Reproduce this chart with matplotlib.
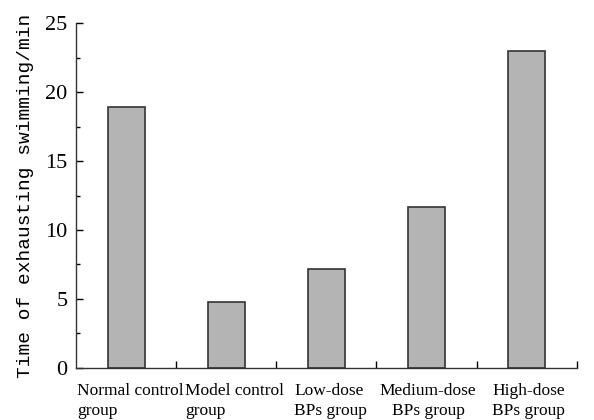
import numpy as np
import matplotlib.pyplot as plt
from matplotlib.ticker import MultipleLocator

groups = ["Normal control\ngroup", "Model control\ngroup", "Low-dose\nBPs group",
          "Medium-dose\nBPs group", "High-dose\nBPs group"]
times = [18.9, 4.8, 7.2, 11.7, 23.0]
label_align = ["left", "left", "left", "center", "left"]
label_shift = [3, 6, 3, 1, 1.5]  # small horizontal nudges, points

fig = plt.figure(figsize=(5.94, 4.2), dpi=100)
ax = fig.add_axes([0.128, 0.124, 0.843, 0.821])

x = np.arange(len(groups)) + 0.5
ax.bar(x, times, width=0.37, color="#b4b4b4", edgecolor="#333333", linewidth=1.2)

ax.set_xlim(0, len(groups))
ax.set_ylim(0, 25)
ax.spines["top"].set_visible(False)
ax.spines["right"].set_visible(False)
for s in ["left", "bottom"]:
    ax.spines[s].set_linewidth(1.0)
    ax.spines[s].set_color("#333333")

# category boundaries as ticks, names written under each bar
ax.set_xticks(np.arange(1, len(groups) + 1))
ax.set_xticklabels([])
ax.tick_params(axis="x", which="major", direction="in", length=5, width=1)
for xi, name, al, dx in zip(x, groups, label_align, label_shift):
    ax.annotate(name, xy=(xi, 0), xycoords=("data", "axes fraction"),
                xytext=(dx, -11), textcoords="offset points", ha="center", va="top",
                multialignment=al, fontfamily="Liberation Serif", fontsize=12.5,
                linespacing=1.35)

ax.yaxis.set_major_locator(MultipleLocator(5))
ax.yaxis.set_minor_locator(MultipleLocator(2.5))
ax.tick_params(axis="y", which="major", direction="in", length=5, width=1,
               labelsize=16, pad=6)
ax.tick_params(axis="y", which="minor", direction="in", length=3, width=1)
for lab in ax.get_yticklabels():
    lab.set_fontfamily("Liberation Serif")

ax.set_ylabel("Time of exhausting swimming/min", fontfamily="Liberation Mono",
              fontsize=14, labelpad=8)

fig.savefig("out.png", dpi=100)
